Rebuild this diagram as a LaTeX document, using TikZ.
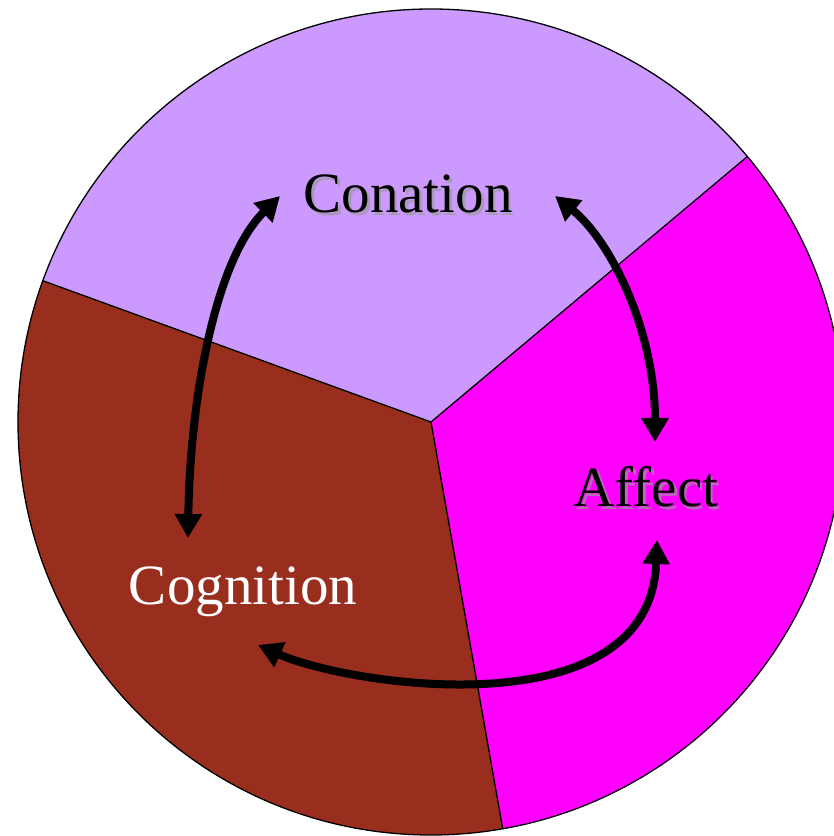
\documentclass[tikz,border=0pt]{standalone}
\usepackage{fontspec}
\setmainfont{Liberation Serif}
\usetikzlibrary{arrows.meta}
\definecolor{conc}{HTML}{CC99FF}
\definecolor{cogc}{HTML}{992E1F}
\definecolor{affc}{HTML}{FF00FF}
\tikzset{
  sector/.style={draw=black,line width=1.3pt},
  lbl/.style={anchor=base,inner sep=0pt,font=\fontsize{57}{60}\selectfont},
  shadowlbl/.style={lbl,text=black!40,opacity=0.7},
  link/.style={line width=8pt,{Triangle[length=24pt,width=26pt]}-{Triangle[length=24pt,width=26pt]}}
}
\begin{document}
\begin{tikzpicture}[x=1pt,y=1pt]
\useasboundingbox (0,0) rectangle (834,836);
\clip (0,0) rectangle (834,836);
\coordinate (O) at (431,414);
\fill[conc] (O) -- ++(40:413) arc[start angle=40,end angle=160,radius=413] -- cycle;
\fill[cogc] (O) -- ++(160:413) arc[start angle=160,end angle=280,radius=413] -- cycle;
\fill[affc] (O) -- ++(280:413) arc[start angle=280,end angle=400,radius=413] -- cycle;
\draw[sector] (O) circle[radius=413];
\draw[sector] (O) -- ++(40:413);
\draw[sector] (O) -- ++(160:413);
\draw[sector] (O) -- ++(280:413);
% labels
\node[shadowlbl] at (410.5,620.5) {Conation};
\node[lbl] (con) at (408,623) {Conation};
\node[shadowlbl] at (648.5,326.5) {Affect};
\node[lbl] (aff) at (646,329) {Affect};
\node[lbl,text=white] (cog) at (243,231) {Cognition};
% arrow ends
\coordinate (conL) at (280,640);
\coordinate (conR) at (555,640);
\coordinate (cogT) at (188,298);
\coordinate (cogR) at (258,191);
\coordinate (affT) at (655,394);
\coordinate (affB) at (657,296);
\draw[link] (cogT) .. controls (190,436) and (215,576) .. (conL);
\draw[link] (conR) .. controls (610,596) and (655,506) .. (affT);
\draw[link] (cogR) .. controls (350,150) and (650,105) .. (affB);
\end{tikzpicture}
\end{document}
